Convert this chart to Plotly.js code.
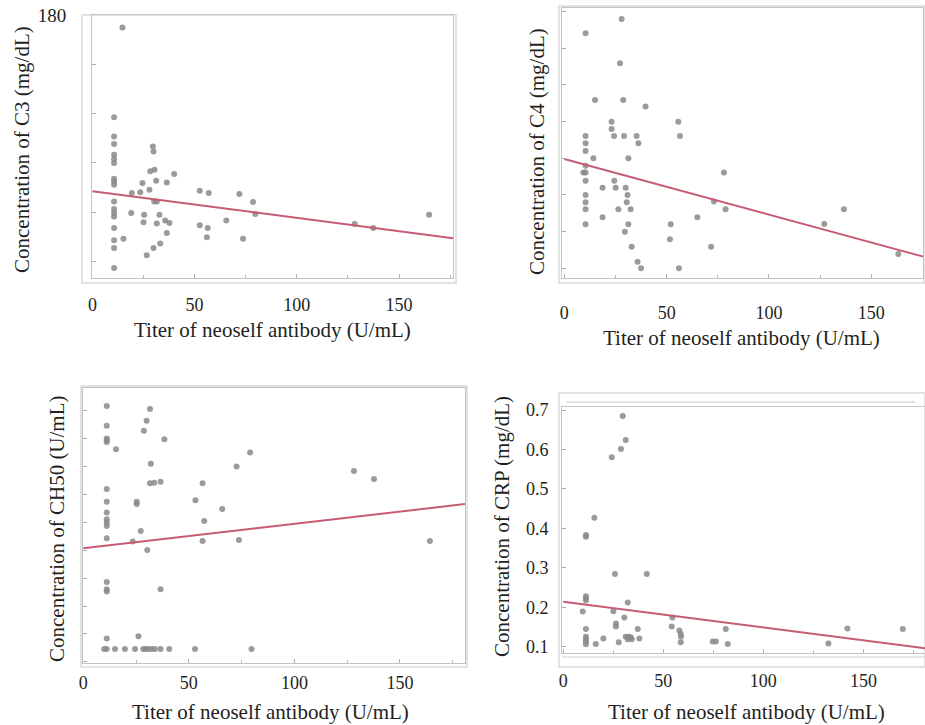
<!DOCTYPE html>
<html>
<head>
<meta charset="utf-8">
<script src="https://cdn.plot.ly/plotly-3.0.1.min.js"></script>
<style>html,body{margin:0;padding:0;background:#fff;}#chart{width:925px;height:725px;}</style>
</head>
<body>
<div id="chart"></div>
<script>
// ---------------- DATA ----------------
const xTitle = 'Titer of neoself antibody (U/mL)';
const yTitles = ['Concentration of C3 (mg/dL)', 'Concentration of C4 (mg/dL)',
                 'Concentration of CH50 (U/mL)', 'Concentration of CRP (mg/dL)'];
const xTickVals = [0, 50, 100, 150];

// C3 panel
const c3X = [14.7,
  10.6,10.6,10.6,10.6,10.6,10.6,10.6,10.6,10.6,10.6,10.6,10.6,10.6,10.6,10.6,10.6,10.6,
  15.2,19.3,19.0,23.4,24.5,25.3,25.0,26.6,27.9,28.3,
  29.6,29.9,29.9,30.4,30.2,31.5,31.2,31.5,32.8,33.2,
  35.6,36.4,36.4,37.7,40.0,52.5,52.5,56.9,56.4,56.0,
  65.5,71.9,73.7,78.6,79.7,128.3,137.4,164.7];
const c3Y = [174.9,
  138.5,130.7,127.6,123.2,121.5,119.9,113.5,112.4,111.1,104.3,101.2,99.6,98.2,93.5,88.5,85.4,77.3,
  89.1,107.7,99.6,108.0,111.8,98.9,95.8,82.4,109.0,116.5,
  126.6,124.6,85.4,117.2,104.3,104.3,112.7,95.3,98.9,87.2,
  96.6,112.0,91.5,95.5,115.4,108.6,94.6,107.7,93.5,89.7,
  96.6,107.3,89.1,104.1,99.2,95.1,93.5,98.9];
const c3FitX = [0, 176.4];
const c3FitY = [108.45, 89.3];
const c3TickVals = [80, 100, 120, 140, 160, 180];
const c3TickText = ['', '', '', '', '', '180'];

// C4 panel
const c4X = [28.0,10.4,27.2,15.0,28.8,39.7,23.1,23.1,24.3,55.7,
  56.5,10.4,10.4,10.4,29.2,35.3,36.2,14.2,31.3,10.4,
  9.3,10.4,10.4,24.4,18.7,25.1,30.0,10.4,30.9,10.4,
  30.5,10.4,26.4,32.4,18.7,10.4,31.3,29.6,52.0,51.6,
  32.9,35.8,37.5,56.0,65.0,71.7,73.1,78.0,78.8,127.0,
  136.6,163.2];
const c4Y = [39.0,37.05,32.95,27.95,27.95,27.05,25.0,24.0,23.05,25.0,
  23.05,23.05,22.05,21.0,23.05,23.05,22.05,20.0,20.0,19.0,
  18.05,18.05,16.95,16.95,16.0,16.0,16.0,15.0,15.0,14.0,
  14.0,13.05,13.05,13.05,11.95,11.0,11.0,10.0,11.0,8.95,
  7.95,5.9,5.0,5.0,11.95,7.95,14.1,18.05,13.05,11.05,
  13.05,6.95];
const c4FitX = [0, 175.4];
const c4FitY = [19.9, 6.6];
const c4TickVals = [5, 10, 15, 20, 25, 30, 35, 40];

// CH50 panel
const ch50X = [11.1,31.6,30.0,28.7,11.1,11.1,11.1,11.1,38.4,15.5,
  79.0,32.0,72.6,128.2,137.7,31.6,33.6,36.6,56.5,11.1,
  53.1,11.1,25.3,25.3,65.8,11.1,11.1,11.1,11.1,57.3,
  27.2,11.1,23.4,56.5,73.7,164.2,30.3,11.1,11.1,11.1,
  36.6,11.1,26.1,
  9.9,11.1,15.0,19.7,24.5,28.4,29.5,30.8,32.4,33.9,36.6,40.7,52.9,79.7];
const ch50Y = [60.7,60.2,58.1,56.3,57.2,54.9,54.6,54.3,54.8,53.0,
  52.4,50.4,49.9,49.1,47.7,46.9,47.0,47.2,46.9,45.9,
  43.9,43.6,43.6,43.2,42.3,41.7,40.5,39.9,39.3,40.2,
  38.4,37.1,36.5,36.6,36.8,36.6,35.0,29.3,28.0,27.6,
  28.0,19.2,19.6,
  17.3,17.3,17.3,17.3,17.3,17.3,17.3,17.3,17.3,17.3,17.3,17.3,17.3,17.3];
const ch50FitX = [0, 180.8];
const ch50FitY = [35.3, 43.2];
const ch50TickVals = [15, 20, 25, 30, 35, 40, 45, 50, 55, 60];

// CRP panel
const crpX = [29.7,31.2,28.8,24.2,15.5,11.3,11.3,25.8,41.7,11.3,
  11.3,11.3,32.2,9.7,25.0,26.3,26.3,30.5,54.5,54.2,
  11.3,37.2,58.0,58.7,58.8,58.7,81.2,142.0,169.7,11.3,
  11.3,11.3,11.3,16.2,20.0,27.7,31.2,32.5,33.7,32.2,
  34.2,38.0,74.7,76.3,82.2,132.5];
const crpY = [0.685,0.624,0.601,0.580,0.427,0.383,0.379,0.284,0.284,0.228,
  0.223,0.218,0.212,0.189,0.190,0.159,0.151,0.174,0.174,0.151,
  0.145,0.145,0.141,0.132,0.125,0.111,0.145,0.146,0.145,0.125,
  0.119,0.113,0.106,0.107,0.121,0.111,0.125,0.125,0.124,0.119,
  0.119,0.121,0.113,0.113,0.107,0.108];
const crpFitX = [0, 180.8];
const crpFitY = [0.214, 0.096];
const crpTickVals = [0.1, 0.2, 0.3, 0.4, 0.5, 0.6, 0.7];
const crpTickText = ['0.1', '0.2', '0.3', '0.4', '0.5', '0.6', '0.7'];

// ---------------- STYLE / LAYOUT ----------------
const W = 925, H = 725;
const fx = p => p / W;
const fy = p => 1 - p / H;
const FONT = 'Liberation Serif, Times New Roman, serif';
const TXT = '#231f20';
const DOT = '#8a8a8a';
const FIT = '#c65c74';

const panels = [
  {x: c3X, y: c3Y, fx: c3FitX, fy: c3FitY,
   xd: [92, 453], yd: [15, 278], xr: [-0.2, 176.4], yr: [73.2, 180],
   yt: c3TickVals, ytt: c3TickText, xstand: 10, ystand: 21, ysize: 19,
   frame: [82, 15, 456, 283],
   xTitlePos: [272, 330], yTitlePos: [22, 150]},
  {x: c4X, y: c4Y, fx: c4FitX, fy: c4FitY,
   xd: [561.7, 923.3], yd: [8.3, 278.3], xr: [-1.27, 175.4], yr: [3.64, 40.45],
   yt: c4TickVals, ytt: c4TickVals.map(() => ''), xstand: 18, ystand: 10, ysize: 18,
   frame: [559, 6, 924, 283],
   xTitlePos: [741, 338], yTitlePos: [537, 152]},
  {x: ch50X, y: ch50Y, fx: ch50FitX, fy: ch50FitY,
   xd: [83, 465], yd: [388, 663], xr: [-0.15, 180.8], yr: [14.82, 63.93],
   yt: ch50TickVals, ytt: ch50TickVals.map(() => ''), xstand: 3, ystand: 10, ysize: 18,
   frame: [81, 386, 467, 667],
   xTitlePos: [270, 712], yTitlePos: [57, 529]},
  {x: crpX, y: crpY, fx: crpFitX, fy: crpFitY,
   xd: [562, 925], yd: [407, 653], xr: [-0.67, 180.8], yr: [0.084, 0.7076],
   yt: crpTickVals, ytt: crpTickText, xstand: 11, ystand: 9, ysize: 18,
   frame: [559, 393, 925, 667],
   xTitlePos: [746, 712], yTitlePos: [502, 527]}
];

const data = [];
const layout = {
  width: W, height: H,
  margin: {l: 0, r: 0, t: 0, b: 0, pad: 0},
  paper_bgcolor: '#ffffff',
  plot_bgcolor: 'rgba(0,0,0,0)',
  showlegend: false,
  font: {family: FONT, color: TXT, size: 18},
  shapes: [],
  annotations: []
};

panels.forEach((p, i) => {
  const n = i === 0 ? '' : String(i + 1);
  const xa = 'x' + n, ya = 'y' + n;
  data.push({
    type: 'scatter', mode: 'markers', x: p.x, y: p.y, xaxis: xa, yaxis: ya,
    marker: {size: 6, color: DOT, opacity: 0.85}, hoverinfo: 'x+y', cliponaxis: false
  });
  data.push({
    type: 'scatter', mode: 'lines', x: p.fx, y: p.fy, xaxis: xa, yaxis: ya,
    line: {color: FIT, width: 2}, hoverinfo: 'skip'
  });
  layout['xaxis' + n] = {
    domain: [fx(p.xd[0]), fx(p.xd[1])], range: p.xr, anchor: ya,
    showgrid: false, zeroline: false, showline: true, mirror: true,
    linecolor: '#c4c4c4', linewidth: 1,
    tickmode: 'array', tickvals: xTickVals,
    ticks: 'inside', ticklen: 4, tickcolor: '#b0b0b0', tickwidth: 1,
    minor: {tickmode: 'linear', tick0: 0, dtick: 25, ticks: 'inside', ticklen: 3, tickcolor: '#bcbcbc'},
    ticklabelstandoff: p.xstand,
    tickfont: {family: FONT, size: 18, color: TXT},
    fixedrange: true
  };
  layout['yaxis' + n] = {
    domain: [fy(p.yd[1]), fy(p.yd[0])], range: p.yr, anchor: xa,
    showgrid: false, zeroline: false, showline: true, mirror: true,
    linecolor: '#c4c4c4', linewidth: 1,
    tickmode: 'array', tickvals: p.yt, ticktext: p.ytt,
    ticks: 'inside', ticklen: 4, tickcolor: '#b0b0b0', tickwidth: 1,
    ticklabelstandoff: p.ystand,
    tickfont: {family: FONT, size: p.ysize, color: TXT},
    fixedrange: true
  };
  // outer light frame of each scanned panel
  layout.shapes.push({
    type: 'rect', xref: 'paper', yref: 'paper', layer: 'below',
    x0: fx(p.frame[0]), x1: fx(p.frame[2]), y0: fy(p.frame[3]), y1: fy(p.frame[1]),
    line: {color: '#e2e2e2', width: 2}, fillcolor: 'rgba(0,0,0,0)'
  });
  layout.annotations.push({
    xref: 'paper', yref: 'paper', x: fx(p.xTitlePos[0]), y: fy(p.xTitlePos[1]),
    xanchor: 'center', yanchor: 'middle', showarrow: false,
    text: xTitle, font: {family: FONT, size: 21, color: TXT}
  });
  layout.annotations.push({
    xref: 'paper', yref: 'paper', x: fx(p.yTitlePos[0]), y: fy(p.yTitlePos[1]),
    xanchor: 'center', yanchor: 'middle', showarrow: false, textangle: -90,
    text: yTitles[i], font: {family: FONT, size: 21, color: TXT}
  });
});

// extra double frame lines of the CRP panel
layout.shapes.push({type: 'line', xref: 'paper', yref: 'paper', layer: 'below',
  x0: fx(566), x1: fx(915), y0: fy(402), y1: fy(402), line: {color: '#c8c8c8', width: 1}});
layout.shapes.push({type: 'line', xref: 'paper', yref: 'paper', layer: 'below',
  x0: fx(562), x1: fx(925), y0: fy(657), y1: fy(657), line: {color: '#d0d0d0', width: 1}});

Plotly.newPlot('chart', data, layout, {displayModeBar: false, staticPlot: true});
</script>
</body>
</html>
